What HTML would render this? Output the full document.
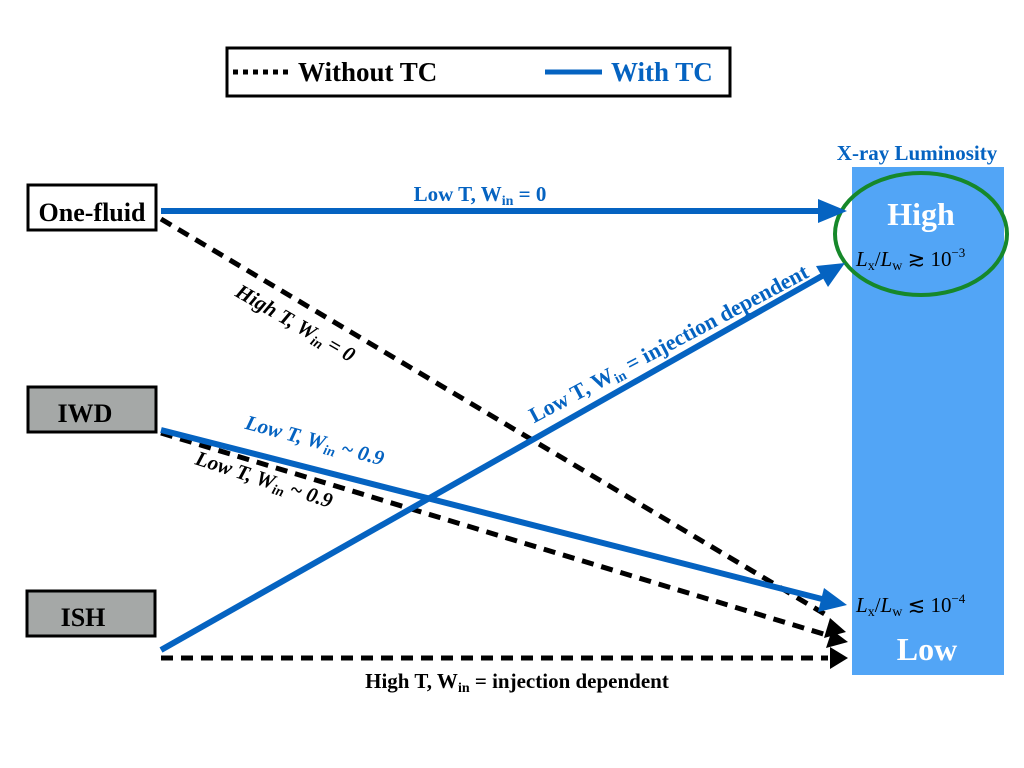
<!DOCTYPE html>
<html><head><meta charset="utf-8"><style>
html,body{margin:0;padding:0;background:#fff;}
svg{display:block;}
text{font-family:"Liberation Serif",serif;font-weight:bold;}
text.m{font-weight:normal;}
</style></head><body>
<svg width="1024" height="768" viewBox="0 0 1024 768" xmlns="http://www.w3.org/2000/svg">
<!-- legend -->
<rect x="227" y="48" width="503" height="48" fill="#fff" stroke="#000" stroke-width="3"/>
<line x1="233" y1="72" x2="291" y2="72" stroke="#000" stroke-width="5" stroke-dasharray="5,5"/>
<text x="298" y="81" font-size="27" fill="#000">Without TC</text>
<line x1="545" y1="72" x2="602" y2="72" stroke="#0563c1" stroke-width="5"/>
<text x="611" y="81" font-size="27" fill="#0563c1">With TC</text>

<!-- luminosity bar -->
<text x="917" y="160" font-size="21" fill="#0563c1" text-anchor="middle">X-ray Luminosity</text>
<rect x="852" y="167" width="152" height="508" fill="#52a5f6"/>
<ellipse cx="921" cy="234" rx="86" ry="61" fill="none" stroke="#16882a" stroke-width="4"/>
<text x="921" y="225" font-size="32" fill="#fff" text-anchor="middle">High</text>
<text class="m" x="856" y="266" font-size="21" fill="#000"><tspan font-style="italic">L</tspan><tspan font-size="14" dy="4">x</tspan><tspan dy="-4">/</tspan><tspan font-style="italic">L</tspan><tspan font-size="14" dy="4">w</tspan><tspan dy="-4"> ≳ 10</tspan><tspan font-size="13" dy="-9">−3</tspan></text>
<text class="m" x="856" y="612" font-size="21" fill="#000"><tspan font-style="italic">L</tspan><tspan font-size="14" dy="4">x</tspan><tspan dy="-4">/</tspan><tspan font-style="italic">L</tspan><tspan font-size="14" dy="4">w</tspan><tspan dy="-4"> ≲ 10</tspan><tspan font-size="13" dy="-9">−4</tspan></text>
<text x="927" y="660" font-size="32" fill="#fff" text-anchor="middle">Low</text>

<!-- boxes -->
<rect x="28" y="185" width="128" height="45" fill="#fff" stroke="#000" stroke-width="3"/>
<text x="92" y="221" font-size="26" text-anchor="middle">One-fluid</text>
<rect x="28" y="387" width="128" height="45" fill="#a5a8a7" stroke="#000" stroke-width="3"/>
<text x="85" y="422" font-size="26" text-anchor="middle">IWD</text>
<rect x="27" y="591" width="128" height="45" fill="#a5a8a7" stroke="#000" stroke-width="3"/>
<text x="83" y="626" font-size="26" text-anchor="middle">ISH</text>

<!-- dashed black lines -->
<g stroke="#000" stroke-width="5" stroke-dasharray="12,8" fill="none">
<line x1="161" y1="219" x2="828" y2="616"/>
<line x1="161" y1="433" x2="830" y2="636"/>
<line x1="161" y1="658" x2="828" y2="658"/>
</g>
<g fill="#000">
<path d="M830,618 L846,632 L824,638 Z"/>
<path d="M832,630 L848,642 L826,648 Z"/>
<path d="M830,647 L848,658 L830,669 Z"/>
</g>

<!-- blue lines -->
<g stroke="#0563c1" stroke-width="6" fill="none">
<line x1="161" y1="211" x2="820" y2="211"/>
<line x1="161" y1="430" x2="822" y2="599"/>
<line x1="161" y1="650" x2="822" y2="276"/>
</g>
<g fill="#0563c1">
<path d="M847,211 L818,199 L818,223 Z"/>
<path d="M847,605 L824,588 L818,612 Z"/>
<path d="M845,263 L816,266 L828,287 Z"/>
</g>

<!-- labels -->
<text x="480" y="201" font-size="21" fill="#0563c1" text-anchor="middle">Low T, W<tspan font-size="14" dy="4">in</tspan><tspan dy="-4"> = 0</tspan></text>
<text transform="translate(292,329) rotate(30)" font-size="21" fill="#000" text-anchor="middle" font-style="italic">High T, W<tspan font-size="14" dy="4">in</tspan><tspan dy="-4"> = 0</tspan></text>
<text transform="translate(313,447) rotate(15)" font-size="21" fill="#0563c1" text-anchor="middle" font-style="italic">Low T, W<tspan font-size="14" dy="4">in</tspan><tspan dy="-4"> ~ 0.9</tspan></text>
<text transform="translate(262,486) rotate(18)" font-size="21" fill="#000" text-anchor="middle" font-style="italic">Low T, W<tspan font-size="14" dy="4">in</tspan><tspan dy="-4"> ~ 0.9</tspan></text>
<text transform="translate(672,350) rotate(-28)" font-size="22" fill="#0563c1" text-anchor="middle">Low T, W<tspan font-size="14" dy="4">in</tspan><tspan dy="-4"> = injection dependent</tspan></text>
<text x="517" y="688" font-size="21" fill="#000" text-anchor="middle">High T, W<tspan font-size="14" dy="4">in</tspan><tspan dy="-4"> = injection dependent</tspan></text>
</svg>
</body></html>
